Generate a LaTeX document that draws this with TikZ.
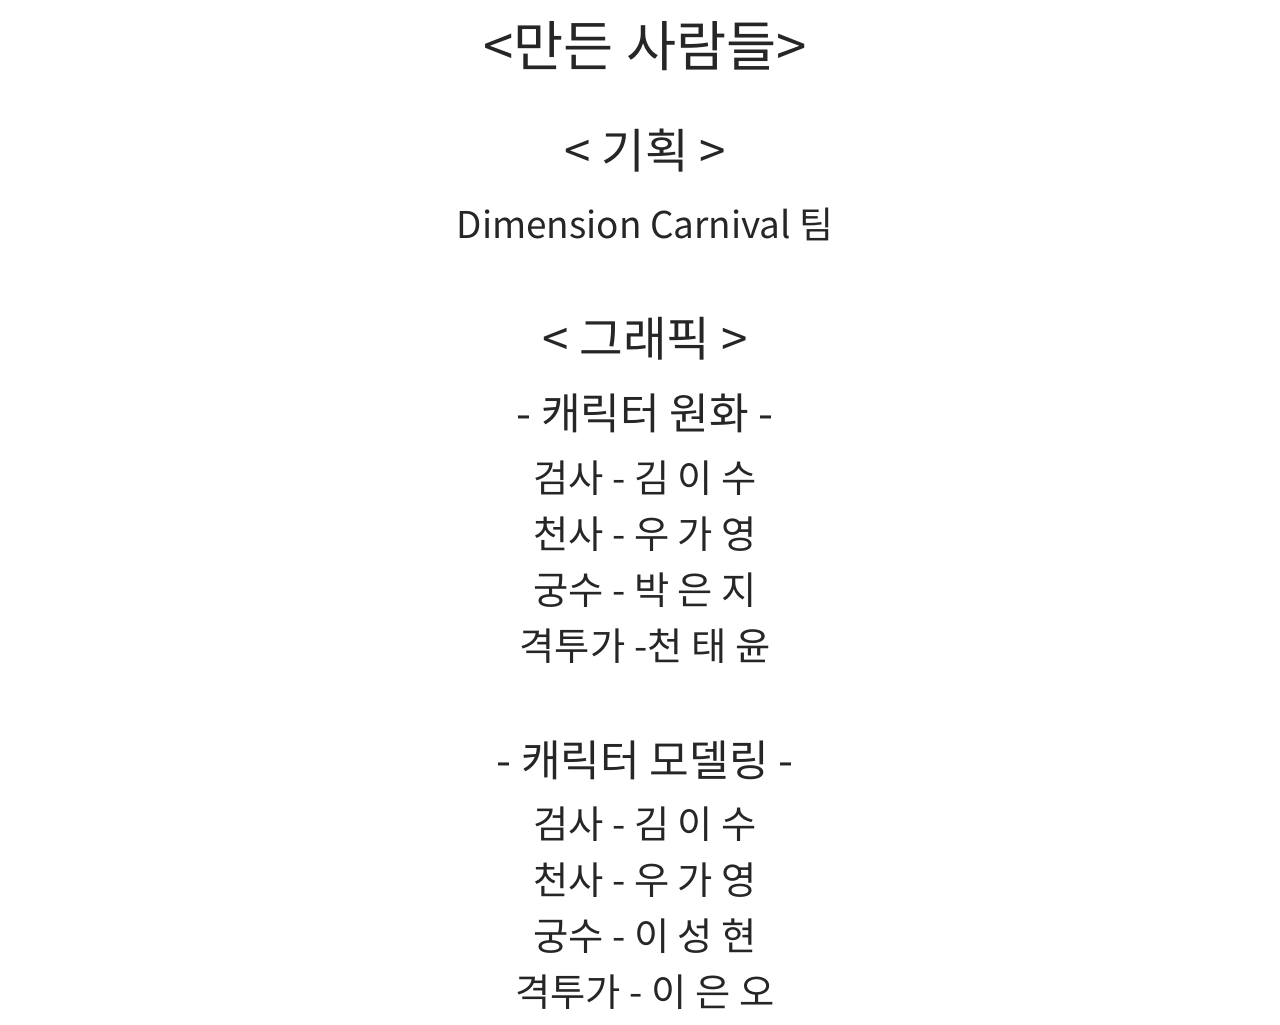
\documentclass[tikz,border=0pt]{standalone}
\usepackage{fontspec}
\setmainfont{Noto Sans CJK KR}
\begin{document}
\begin{tikzpicture}[node distance=1.12cm, auto]
  \tikzstyle{title} = [text=black!85, font=\fontsize{31}{36}\selectfont, text height=1.0em, text depth=0.2em]
  \tikzstyle{head} = [text=black!85, font=\fontsize{27}{32}\selectfont, text height=1.0em, text depth=0.2em]
  \tikzstyle{team} = [text=black!85, font=\fontsize{21}{25}\selectfont, text height=1.0em, text depth=0.2em]
  \tikzstyle{sub} = [text=black!85, font=\fontsize{24.5}{29}\selectfont, text height=1.0em, text depth=0.2em]
  \tikzstyle{body} = [text=black!85, font=\fontsize{21.8}{26}\selectfont, text height=1.0em, text depth=0.2em]

  \useasboundingbox (0,0) rectangle (25.6,-20.48);

  \node [title] (title) at (12.9,-1.18) {<만든 사람들>};
  \node [head, below of=title, node distance=2.04cm] (plan) {< 기획 >};
  \node [team, below of=plan, node distance=1.4cm] (team) {Dimension Carnival 팀};
  \node [head, below of=team, node distance=2.36cm] (graphic) {< 그래픽 >};

  \node [sub, below of=graphic, node distance=1.46cm] (concept) {- 캐릭터 원화 -};
  \node [body, below of=concept, node distance=1.26cm] (c1) {검사 - 김 이 수};
  \node [body, below of=c1] (c2) {천사 - 우 가 영};
  \node [body, below of=c2] (c3) {궁수 - 박 은 지};
  \node [body, below of=c3] (c4) {격투가 -천 태 윤};

  \node [sub, below of=c4, node distance=2.32cm] (model) {- 캐릭터 모델링 -};
  \node [body, below of=model, node distance=1.24cm] (m1) {검사 - 김 이 수};
  \node [body, below of=m1] (m2) {천사 - 우 가 영};
  \node [body, below of=m2] (m3) {궁수 - 이 성 현};
  \node [body, below of=m3] (m4) {격투가 - 이 은 오};
\end{tikzpicture}
\end{document}
